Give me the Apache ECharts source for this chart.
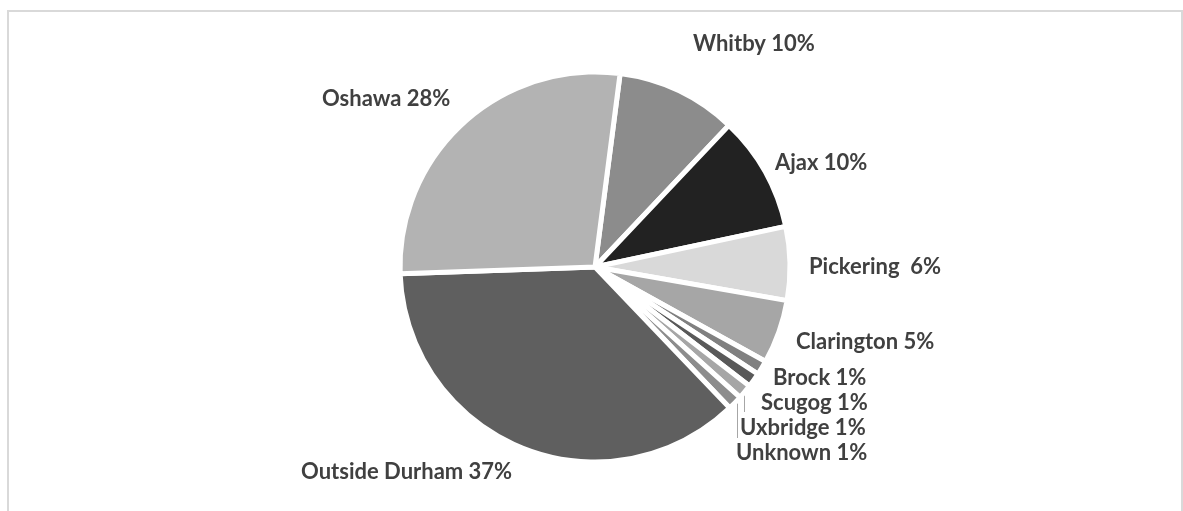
<!DOCTYPE html>
<html>
<head>
<meta charset="utf-8">
<script src="https://cdn.jsdelivr.net/npm/echarts@6/dist/echarts.min.js"></script>
<style>
  html, body { margin: 0; padding: 0; background: #fff; }
  #chart { width: 1183px; height: 511px; }
</style>
</head>
<body>
<div id="chart"></div>
<script>
// Data
const categories = ['Whitby', 'Ajax', 'Pickering ', 'Clarington', 'Brock', 'Scugog', 'Uxbridge', 'Unknown', 'Outside Durham', 'Oshawa'];
const shares     = [10.0, 9.6, 6.1, 5.3, 1.2, 1.2, 1.2, 1.2, 36.6, 27.6];
const pctLabels  = ['10%', '10%', '6%', '5%', '1%', '1%', '1%', '1%', '37%', '28%'];
const colors     = ['#8c8c8c', '#222222', '#d9d9d9', '#a6a6a6', '#808080', '#595959', '#a6a6a6', '#8c8c8c', '#5f5f5f', '#b3b3b3'];

// label anchor positions (left, middle) in pixels
const labelPos = [
  [693, 44], [775, 163], [809, 267], [796, 342], [773, 378],
  [761, 403], [740, 428], [736, 453], [301, 472], [322, 99]
];

const chart = echarts.init(document.getElementById('chart'), null, { renderer: 'canvas' });
chart.setOption({
  animation: false,
  backgroundColor: '#ffffff',
  graphic: [
    { type: 'rect', shape: { x: 8, y: 11, width: 1174, height: 560 },
      style: { fill: 'none', stroke: '#d9d9d9', lineWidth: 2 }, silent: true },
    { type: 'line', shape: { x1: 744.5, y1: 395, x2: 744.5, y2: 412 },
      style: { stroke: '#a6a6a6', lineWidth: 1 }, silent: true },
    { type: 'line', shape: { x1: 737.5, y1: 398, x2: 737.5, y2: 438 },
      style: { stroke: '#a6a6a6', lineWidth: 1 }, silent: true }
  ],
  series: [{
    type: 'pie',
    center: [595, 267],
    radius: [0, 195],
    startAngle: 82.6,
    clockwise: true,
    avoidLabelOverlap: false,
    itemStyle: { borderColor: '#ffffff', borderWidth: 5 },
    label: {
      show: true,
      position: 'outside',
      color: '#404040',
      fontFamily: 'Lato',
      fontWeight: 'bold',
      fontSize: 22,
      formatter: p => categories[p.dataIndex] + ' ' + pctLabels[p.dataIndex]
    },
    labelLine: { show: false },
    labelLayout: p => ({
      x: labelPos[p.dataIndex][0],
      y: labelPos[p.dataIndex][1],
      align: 'left',
      verticalAlign: 'middle'
    }),
    data: categories.map((c, i) => ({ name: c, value: shares[i], itemStyle: { color: colors[i] } }))
  }]
});
</script>
</body>
</html>
